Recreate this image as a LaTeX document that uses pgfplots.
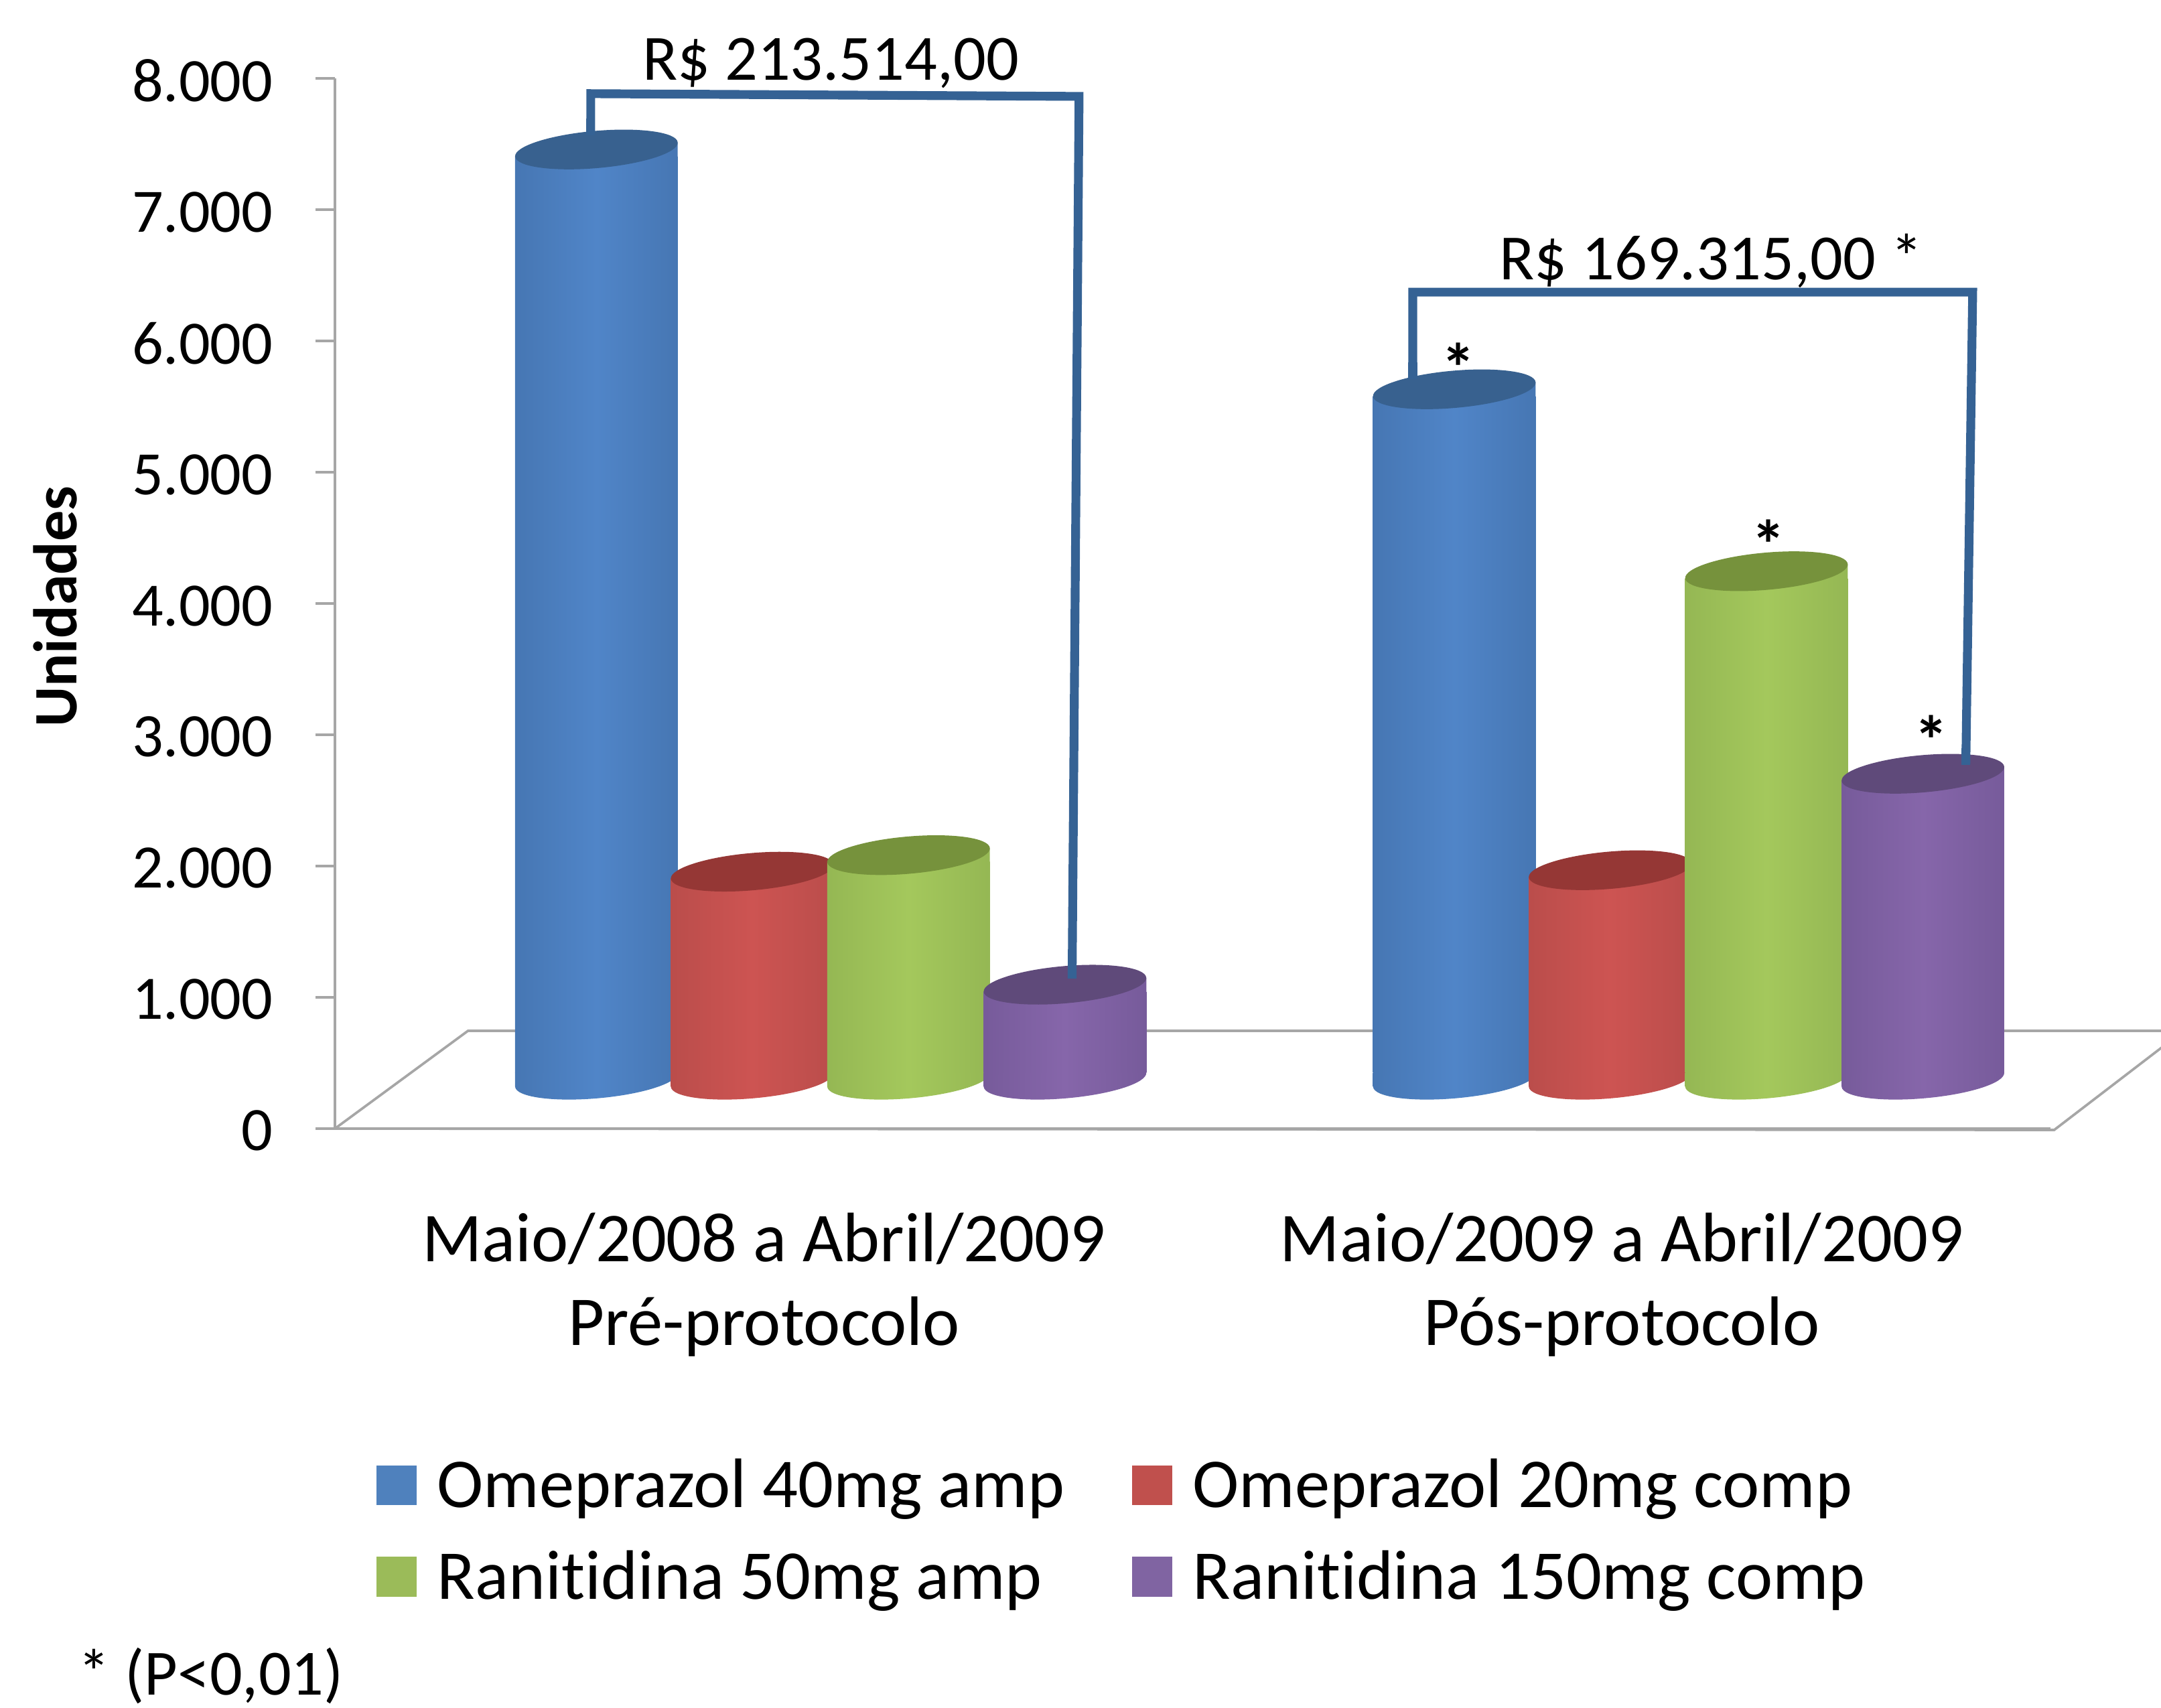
\documentclass[border=0pt]{standalone}
\usepackage{fontspec}
\usepackage{pgfplots}
\usepackage{pgfplotstable}
\pgfplotsset{compat=1.18}
\setmainfont{Carlito}[Ligatures={NoCommon}]

\definecolor{legB}{HTML}{4F81BD}
\definecolor{legR}{HTML}{C0504D}
\definecolor{legG}{HTML}{9BBB59}
\definecolor{legP}{HTML}{8064A2}
\definecolor{topB}{HTML}{38618F}
\definecolor{topR}{HTML}{953735}
\definecolor{topG}{HTML}{76923C}
\definecolor{topP}{HTML}{5F4A7A}
\definecolor{bracket}{HTML}{356294}
\definecolor{floorgray}{HTML}{A6A6A6}

\definecolor{eB}{HTML}{2B5485}\definecolor{mB}{HTML}{4270AA}\definecolor{cB}{HTML}{5085C8}
\definecolor{eR}{HTML}{863634}\definecolor{mR}{HTML}{B24A48}\definecolor{cR}{HTML}{CD5452}
\definecolor{eG}{HTML}{6B853A}\definecolor{mG}{HTML}{8EB050}\definecolor{cG}{HTML}{A4C85C}
\definecolor{eP}{HTML}{503C6E}\definecolor{mP}{HTML}{705694}\definecolor{cP}{HTML}{8666AA}

% cylinder side: dark edges, light middle
\newcommand\defshade[1]{%
  \pgfdeclarehorizontalshading{cyl#1}{100bp}{color(0bp)=(e#1);color(14bp)=(m#1);color(50bp)=(c#1);color(86bp)=(m#1);color(100bp)=(e#1)}}
\defshade{B}\defshade{R}\defshade{G}\defshade{P}

\newcommand\defmarks[1]{%
  \pgfdeclareplotmark{cap#1}{%
    \path[draw=none,shade,shading=cyl#1] (-29.5pt,-2.5pt) -- (29.5pt,2.5pt) -- (29.5pt,-2.5pt) -- cycle;
    \path[draw=none,fill=top#1] (0pt,0pt) ellipse [x radius=29.6pt,y radius=6.75pt,rotate=5];
  }%
  \pgfdeclareplotmark{base#1}{%
    \path[draw=none,shade,shading=cyl#1] (-29.5pt,-2.5pt) -- (29.5pt,2.5pt) -- (-29.5pt,2.5pt) -- cycle;
    \path[draw=none,shade,shading=cyl#1] (0pt,0pt) ellipse [x radius=29.6pt,y radius=6.75pt,rotate=5];
  }%
}
\defmarks{B}\defmarks{R}\defmarks{G}\defmarks{P}
% end of a bracket, lying over the cylinder top
\pgfdeclareplotmark{stub}{\path[draw=none,fill=bracket] (-1.6pt,0pt) rectangle (1.6pt,6pt);}

\pgfplotstableread{
x v
0 7087
1 5260
}\tabB
\pgfplotstableread{
x v
0 1585
1 1596
}\tabR
\pgfplotstableread{
x v
0 1711
1 3874
}\tabG
\pgfplotstableread{
x v
0 724
1 2331
}\tabP

% one cylinder series: base, body, top. one plot per bar, since a plot's bars share one shaded path
\newcommand\cyl[3]{%
  \addplot[only marks,mark=base#1,forget plot,shift={(24.25pt+#3pt,17.75pt)}] coordinates {(0,0)(1,0)};
  \addplot[ybar,bar width=59pt,bar shift=#3pt,draw=none,shade,shading=cyl#1,forget plot,shift={(24.25pt,20.25pt)},restrict x to domain=-0.1:0.1]
    table[x=x,y expr=\thisrow{v}-105] {#2};
  \addplot[ybar,bar width=59pt,bar shift=#3pt,draw=none,shade,shading=cyl#1,forget plot,shift={(24.25pt,20.25pt)},restrict x to domain=0.9:1.1]
    table[x=x,y expr=\thisrow{v}-105] {#2};
  \addplot[only marks,mark=cap#1,forget plot,shift={(24.25pt+#3pt,17.75pt)}] table[x=x,y=v] {#2};
}

\pgfplotsset{legsq/.style={legend image code/.code={\fill[##1,draw=none] (0pt,-7.25pt) rectangle (14.5pt,7.25pt);}}}

\newcommand\lab{\fontsize{22.4}{30.5}\selectfont}
\newcommand\labbig{\fontsize{25.4}{30.5}\selectfont}
\newcommand\labnote{\fontsize{23.4}{28}\selectfont}
\newcommand\labstar{\fontsize{25}{28}\selectfont\bfseries}

\begin{document}
\begin{tikzpicture}
\useasboundingbox (0,0) rectangle (784pt,619.5pt);
\begin{axis}[
    at={(121.5pt,210pt)},
    anchor=south west,
    scale only axis,
    width=622.5pt,
    height=381pt,
    xmin=-0.5, xmax=1.5,
    ymin=0, ymax=8000,
    clip=false,
    clip mode=individual,
    axis lines*=left,
    axis line style={floorgray,line width=0.9pt},
    xtick={0,1},
    xticklabels={{Maio/2008 a Abril/2009\\Pré-protocolo},{Maio/2009 a Abril/2009\\Pós-protocolo}},
    x tick label style={align=center,font=\labbig,yshift=-20pt},
    xtick style={draw=none},
    ytick={0,1000,...,8000},
    y tick label style={font=\lab,xshift=-12pt,yshift=-0.8pt},
    ytick style={floorgray,line width=0.9pt},
    tick align=outside,
    major tick length=7pt,
    /pgf/number format/assume math mode=true,
    /pgf/number format/.cd,fixed,1000 sep={.},/pgfplots/.cd,
    ylabel={\textbf{Unidades}},
    y label style={at={(axis description cs:-0.163,0.497)},anchor=center,font=\fontsize{22.4}{26}\selectfont},
    legend columns=2,
    legend style={at={(axis cs:-0.452,-2470)},anchor=north west,draw=none,fill=none,font=\labbig,
      /tikz/every even column/.append style={column sep=22.5pt},
      /tikz/every odd column/.append style={column sep=5.5pt},row sep=10pt,inner sep=0pt},
    legend cell align=left,
]
% floor of the 3D box
\addplot[floorgray,line width=0.9pt,forget plot] coordinates {(-0.5,0)(-0.3449,745)(1.6295,745)};
\addplot[floorgray,line width=0.9pt,forget plot] coordinates {(-0.5,0)(1.504,-10)(1.6295,619)};

\cyl{B}{\tabB}{-85}
\cyl{R}{\tabR}{-28.5}
\cyl{G}{\tabG}{28.25}
\cyl{P}{\tabP}{85}

% brackets with the totals
\addplot[bracket,line width=3.2pt,line join=miter,forget plot] coordinates {(-0.2018,7570)(-0.2018,7885)(0.3674,7864)(0.3593,1144)};
\addplot[bracket,line width=3.2pt,line join=miter,forget plot] coordinates {(0.7564,5711)(0.7564,6373)(1.409,6373)(1.401,2772)};
\addplot[only marks,mark=stub,forget plot] coordinates {(-0.2018,7570)(0.3593,1144)(0.7564,5711)(1.401,2772)};

\addlegendimage{legsq,fill=legB}\addlegendentry{Omeprazol 40mg amp}
\addlegendimage{legsq,fill=legR}\addlegendentry{Omeprazol 20mg comp}
\addlegendimage{legsq,fill=legG}\addlegendentry{Ranitidina 50mg amp}
\addlegendimage{legsq,fill=legP}\addlegendentry{Ranitidina 150mg comp}

\node[anchor=base,font=\labnote] at (axis cs:0.078,7990) {R\$ 213.514,00};
\node[anchor=base,font=\labnote] at (axis cs:1.104,6467) {R\$ 169.315,00 *};
\node[anchor=base,font=\labstar] at (axis cs:0.8095,5610) {*};
\node[anchor=base,font=\labstar] at (axis cs:1.171,4264) {*};
\node[anchor=base,font=\labstar] at (axis cs:1.361,2774) {*};
\node[anchor=base west,font=\labnote,inner sep=0pt] at (axis cs:-0.80,-4312) {* (P<0,01)};
\end{axis}
\end{tikzpicture}
\end{document}
